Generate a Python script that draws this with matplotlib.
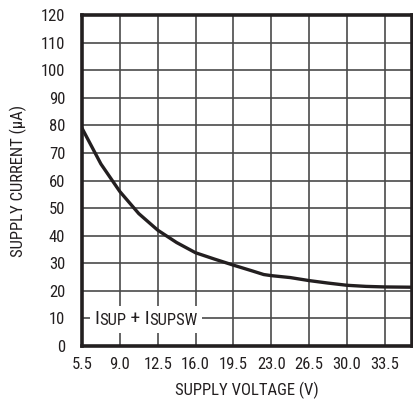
import matplotlib
matplotlib.use('Agg')
import matplotlib.pyplot as plt
from matplotlib.offsetbox import TextArea, HPacker, AnnotationBbox

plt.rcParams['font.family'] = ['Roboto Condensed', 'DejaVu Sans']

voltage = [5.5, 7.25, 9.0, 10.75, 12.5, 14.25, 16.0, 17.75, 19.5, 21.25,
           22.3, 23.0, 24.75, 26.5, 28.25, 30.0, 31.75, 33.5, 36.0]
current = [79, 66, 56, 48, 42, 37.5, 33.8, 31.5, 29.3, 27.2,
           25.9, 25.5, 24.8, 23.7, 22.8, 22.0, 21.6, 21.4, 21.3]

x_ticks = [5.5, 9.0, 12.5, 16.0, 19.5, 23.0, 26.5, 30.0, 33.5]
y_ticks = list(range(0, 121, 10))

txt = '#231f20'

fig = plt.figure(figsize=(4.14, 4.07), dpi=100)
ax = fig.add_axes([0.198, 0.150, 0.797, 0.813])

ax.plot(voltage, current, color=txt, lw=2.4, zorder=3)

ax.set_xlim(5.5, 36.0)
ax.set_ylim(0, 120)
ax.set_xticks(x_ticks)
ax.set_xticklabels(['%.1f' % v for v in x_ticks])
ax.set_yticks(y_ticks)
ax.grid(True, color='#4a4a4a', lw=1.2)
ax.tick_params(length=0, labelsize=12, colors=txt)
ax.tick_params(axis='y', pad=12)
ax.tick_params(axis='x', pad=8)
for s in ax.spines.values():
    s.set_linewidth(2.6)
    s.set_color(txt)

ax.set_xlabel('SUPPLY VOLTAGE (V)', fontsize=12, color=txt, labelpad=7)
ax.set_ylabel('SUPPLY CURRENT (µA)', fontsize=12, color=txt, labelpad=10)

# I_SUP + I_SUPSW label on a white patch
parts = [TextArea('I', textprops=dict(fontsize=14, color=txt)),
         TextArea('SUP', textprops=dict(fontsize=12, color=txt)),
         TextArea(' + I', textprops=dict(fontsize=14, color=txt)),
         TextArea('SUPSW', textprops=dict(fontsize=12, color=txt))]
row = HPacker(children=parts, align='bottom', pad=0, sep=0)
ab = AnnotationBbox(row, (11.4, 9.6), frameon=True, pad=0.3, zorder=4,
                    bboxprops=dict(facecolor='white', edgecolor='none'))
ax.add_artist(ab)

fig.savefig('out.png', dpi=100)
